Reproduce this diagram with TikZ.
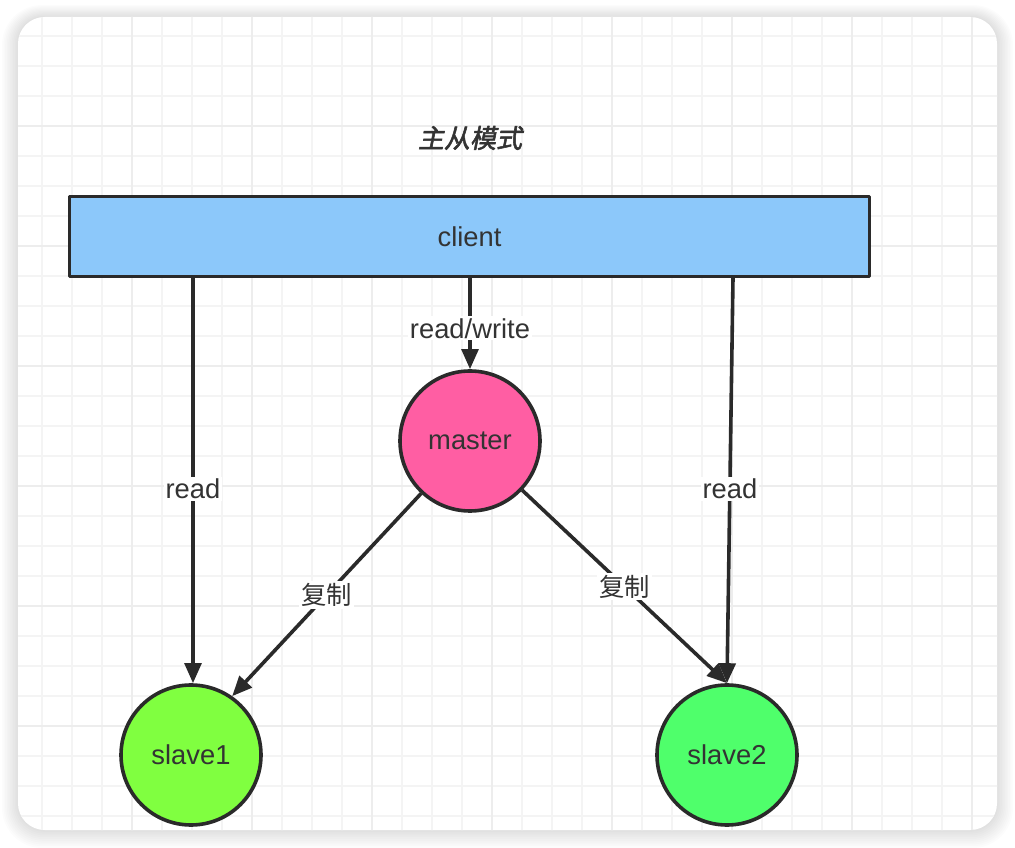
\documentclass[tikz,border=0pt]{standalone}
\usepackage{fontspec}
\setmainfont{Liberation Sans}
\newfontfamily\cjk{Noto Sans CJK SC}
\newfontfamily\cjktitle{Noto Sans CJK SC}[FakeBold=2,FakeSlant=0.2]
\usetikzlibrary{arrows.meta,positioning}
\definecolor{clientblue}{HTML}{8CC8FA}
\definecolor{masterpink}{HTML}{FF5EA3}
\definecolor{slavelime}{HTML}{80FF40}
\definecolor{slavegreen}{HTML}{4FFF6B}
\definecolor{ink}{HTML}{2A2A2A}
\definecolor{txt}{HTML}{333333}
\tikzset{
  every picture/.style={line join=round, >=Stealth},
  box/.style={draw=ink, line width=2.7pt, fill=clientblue, minimum width=600pt, minimum height=60pt, text=txt, font=\fontsize{20.5}{24}\selectfont},
  server/.style={circle, draw=ink, line width=2.7pt, minimum size=105pt, inner sep=0pt, text=txt, font=\fontsize{20.5}{24}\selectfont},
  link/.style={draw=ink, line width=2.7pt, -{Triangle[length=15pt,width=12.5pt]}},
  lbl/.style={fill=white, text=txt, inner sep=1.5pt, font=\fontsize{20.5}{24}\selectfont},
  minor/.style={draw=black!4.5, line width=1.5pt},
  major/.style={draw=black!7, line width=1.5pt},
}

\begin{document}
\begin{tikzpicture}[x=0.75pt,y=-0.75pt]
\useasboundingbox (0,0) rectangle (1015,848);
\fill[white] (0,0) rectangle (1015,848);
% card with shadow
\foreach \s in {1,...,10}
  \fill[black, opacity=0.012, rounded corners=20+\s] (18-\s*1.6,17-\s*1.2) rectangle (997+\s*1.6,830+\s*1.8);
\fill[white, rounded corners=20] (18,17) rectangle (997,830);
\begin{scope}
\clip[rounded corners=20] (18,17) rectangle (997,830);
\foreach \x in {42,72,...,1000} \draw[minor] (\x,0) -- (\x,848);
\foreach \y in {6,36,...,848} \draw[minor] (0,\y) -- (1015,\y);
\foreach \x in {12,132,...,1000} \draw[major] (\x,0) -- (\x,848);
\foreach \y in {6,126,...,848} \draw[major] (0,\y) -- (1015,\y);
\end{scope}

\node[text=txt, font=\cjktitle\fontsize{19.5}{22}\selectfont] (title) at (470,138) {主从模式};

\node[box] (client) at (469.5,236.5) {client};
\node[server, fill=masterpink] (master) at (470,441) {master};
\node[server, fill=slavelime] (slave1) at (191,755) {slave1};
\node[server, fill=slavegreen] (slave2) at (727,755) {slave2};
\coordinate (c1) at (193,278);
\coordinate (c2) at (733,278);

\draw[link] (client.south -| master) -- node[lbl, pos=0.55]{read/write} (master.north);
\draw[link] (c1) -- node[lbl, pos=0.52]{read} (c1 |- slave1.north);
\draw[link] (c2) -- node[lbl, pos=0.52]{read} (slave2.north);
\draw[link] (master) -- node[lbl, font=\cjk\fontsize{19}{22}\selectfont]{复制} (slave1.55);
\draw[link] (master) -- node[lbl, font=\cjk\fontsize{19}{22}\selectfont]{复制} (slave2.north);
\end{tikzpicture}
\end{document}
